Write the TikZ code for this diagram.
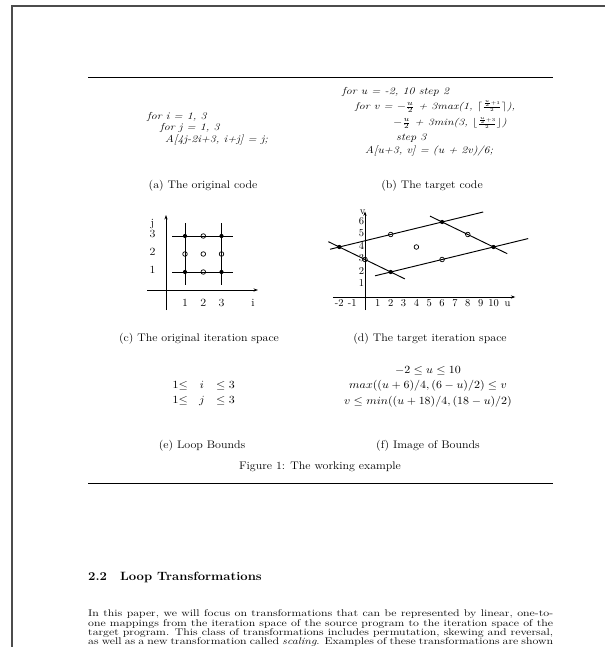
\documentclass[tikz,border=0pt]{standalone}
\usepackage{amsmath,amssymb,graphicx}
\usetikzlibrary{arrows.meta}
\newcommand\fsz{\fontsize{11}{13}\selectfont}
\newcommand\fsm{\fontsize{10.5}{12}\selectfont}
\newcommand\wtx[1]{\scalebox{1.09}[1]{#1}}
\newcommand\cwx[1]{\scalebox{1.09}[0.92]{#1}}
\newcommand\cwy[1]{\scalebox{1.09}[0.88]{#1}}
\newcommand\bdy[1]{\scalebox{1.09}[0.88]{#1}}
\begin{document}
\begin{tikzpicture}[x=1pt,y=-1pt,
  txt/.style={inner sep=0pt, font=\fsz, anchor=mid},
  lft/.style={txt, anchor=mid west},
  sml/.style={inner sep=0pt, font=\fsm, anchor=mid},
  ax/.style={line width=0.85pt, -{Stealth[length=4.5pt,width=3.2pt]}},
  gl/.style={line width=0.95pt},
  fdot/.style={circle, fill=black, inner sep=0pt, minimum size=4.2pt},
  odot/.style={circle, draw=black, line width=0.7pt, inner sep=0pt, minimum size=4.6pt},
  rulel/.style={line width=1pt}]
\useasboundingbox (0,0) rectangle (605,647);
\fill[white] (0,0) rectangle (605,647);
% page border
\draw[black!70, line width=1.2pt] (12,647) -- (12,6) -- (605,6);
% rules
\draw[rulel] (88,78) -- (553,78);
\draw[rulel] (88,483) -- (553,483);

% (a) code
\node[lft] (a1) at (147,117) {\cwx{\textit{for i = 1, 3}}};
\node[lft] (a2) at (160,128) {\cwx{\textit{for j = 1, 3}}};
\node[lft] (a3) at (165,140) {\cwx{\textit{A[4j-2i+3, i+j] = j;}}};
% (b) code
\node[lft] (b1) at (342,92) {\cwx{\textit{for u = -2, 10 step 2}}};
\node[lft] (b2) at (355,107) {\cwy{\textit{for v = }$-\frac{u}{2}$\textit{ + 3max(1, }$\lceil{\scriptstyle\frac{\frac{u}{2}+1}{2}}\rceil$\textit{),}}};
\node[lft] (b3) at (393,123.5) {\cwy{$-\frac{u}{2}$\textit{ + 3min(3, }$\lfloor{\scriptstyle\frac{\frac{u}{2}+3}{2}}\rfloor$\textit{)}}};
\node[lft] (b4) at (396,138) {\cwx{\textit{step 3}}};
\node[lft] (b5) at (365,151) {\cwx{\textit{A[u+3, v] = (u + 2v)/6;}}};

% captions
\node[txt] (ca) at (203,186) {\wtx{(a) The original code}};
\node[txt] (cb) at (432,186) {\wtx{(b) The target code}};
\node[txt] (cc) at (199,339) {\wtx{(c) The original iteration space}};
\node[txt] (cd) at (430,339) {\wtx{(d) The target iteration space}};
\node[txt] (ce) at (202,446) {\wtx{(e) Loop Bounds}};
\node[txt] (cf) at (428,446) {\wtx{(f) Image of Bounds}};
\node[txt] (fig) at (320,467) {\wtx{Figure 1: The working example}};

% (c) original iteration space
\draw[ax] (166,310) -- (166,215);
\draw[ax] (147,290) -- (258,290);
\draw[gl] (185,223) -- (185,285);
\draw[gl] (221.5,223) -- (221.5,285);
\draw[gl] (172,236) -- (233,236);
\draw[gl] (172,272) -- (233,272);
\node[fdot] (p11) at (185,272) {};
\node[fdot] (p31) at (221.5,272) {};
\node[fdot] (p13) at (185,236) {};
\node[fdot] (p33) at (221.5,236) {};
\node[odot] (p21) at (203.3,272) {};
\node[odot] (p23) at (203.3,236) {};
\node[odot] (p12) at (185,254) {};
\node[odot] (p32) at (221.5,254) {};
\node[odot] (p22) at (203.3,254) {};
\node[txt] (lj) at (152.5,224) {\wtx{j}};
\node[txt] (lj3) at (152.5,235) {\wtx{3}};
\node[txt] (lj2) at (152.5,253) {\wtx{2}};
\node[txt] (lj1) at (152.5,271) {\wtx{1}};
\node[txt] (li1) at (185,304) {\wtx{1}};
\node[txt] (li2) at (203.3,304) {\wtx{2}};
\node[txt] (li3) at (221.5,304) {\wtx{3}};
\node[txt] (li) at (253,304) {\wtx{i}};

% (d) target iteration space
\begin{scope}[shift={(365,297)}, x=12.85pt, y=12.5pt]
  \draw[ax] (0,-1.05) -- (0,6.85);
  \draw[ax] (-2.5,0) -- (11.7,0);
  \draw[gl] (-2.72,{(-2.72+18)/4}) -- (9.2,{(9.2+18)/4});
  \draw[gl] (0.78,{(0.78+6)/4}) -- (12.7,{(12.7+6)/4});
  \draw[gl] (-2.85,{(6+2.85)/2}) -- (3.1,{(6-3.1)/2});
  \draw[gl] (5.06,{(18-5.06)/2}) -- (11.07,{(18-11.07)/2});
  \node[fdot] (q1) at (-2,4) {};
  \node[fdot] (q2) at (2,2) {};
  \node[fdot] (q3) at (6,6) {};
  \node[fdot] (q4) at (10,4) {};
  \node[odot] (q5) at (0,3) {};
  \node[odot] (q6) at (2,5) {};
  \node[odot] (q7) at (8,5) {};
  \node[odot] (q8) at (6,3) {};
  \node[odot] (q9) at (4,4) {};
  \foreach \u/\t in {-2/-2,-1/-1,1/1,2/2,3/3,4/4,5/5,6/6,7/7,8/8,9/9,10/10}
    \node[sml] (lu\u) at (\u,-0.58) {\t};
  \node[sml] (lu) at (11.1,-0.58) {u};
  \foreach \v in {1,...,6}
    \node[sml, anchor=mid east] (lv\v) at (-0.05,\v) {\v};
  \node[sml, anchor=mid east] (lv) at (0.05,6.75) {v};
\end{scope}

% (e) loop bounds
\node[txt, anchor=mid east] (e1a) at (188,386) {\wtx{$1{\leq}$}};
\node[txt] (e1b) at (202,386) {\wtx{$i$}};
\node[txt, anchor=mid west] (e1c) at (216,386) {\wtx{$\leq 3$}};
\node[txt, anchor=mid east] (e2a) at (188,401) {\wtx{$1{\leq}$}};
\node[txt] (e2b) at (202,401) {\wtx{$j$}};
\node[txt, anchor=mid west] (e2c) at (216,401) {\wtx{$\leq 3$}};
% (f) image of bounds
\node[txt] (f1) at (428,371) {\wtx{$-2 \le u \le 10$}};
\node[txt] (f2) at (428,386.5) {\wtx{$max((u+6)/4,(6-u)/2) \le v$}};
\node[txt] (f3) at (428,402) {\wtx{$v \le min((u+18)/4,(18-u)/2)$}};

% section
\node[lft, font=\fontsize{12}{14}\selectfont\bfseries] (sec) at (88,578) {\wtx{2.2\quad Loop Transformations}};
\node[txt, anchor=base west] (l1) at (88,616.5) {\bdy{\makebox[426.6pt][s]{In this paper, we will focus on transformations that can be represented by linear, one-to-}}};
\node[txt, anchor=base west] (l2) at (88,626) {\bdy{\makebox[426.6pt][s]{one mappings from the iteration space of the source program to the iteration space of the}}};
\node[txt, anchor=base west] (l3) at (88,635.5) {\bdy{\makebox[426.6pt][s]{target program. This class of transformations includes permutation, skewing and reversal,}}};
\node[txt, anchor=base west] (l4) at (88,644.8) {\bdy{\makebox[426.6pt][s]{as well as a new transformation called \textit{scaling}. Examples of these transformations are shown}}};
\end{tikzpicture}
\end{document}
